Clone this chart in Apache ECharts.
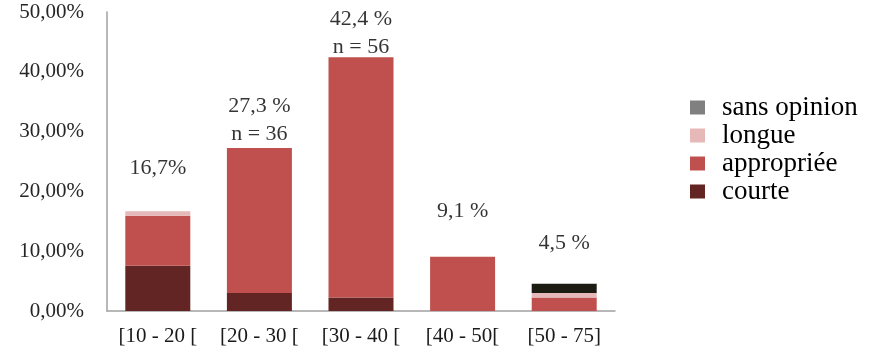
<!DOCTYPE html>
<html>
<head>
<meta charset="utf-8">
<script src="https://cdn.jsdelivr.net/npm/echarts@6/dist/echarts.min.js"></script>
<style>
html,body{margin:0;padding:0;background:#fff;}
#c{width:893px;height:354px;}
</style>
</head>
<body>
<div id="c"></div>
<script>
const categories = ['[10 - 20 [', '[20 - 30 [', '[30 - 40 [', '[40 - 50[', '[50 - 75]'];
const courte = [7.58, 3.03, 2.27, 0, 0];
const appropriee = [8.33, 24.24, 40.15, 9.09, 2.27];
const longue = [0.76, 0, 0, 0, 0.76];
const sansOpinion = [0, 0, 0, 0, 1.52];
const topLabels = ['16,7%', '27,3 %\nn = 36', '42,4 %\nn = 56', '9,1 %', '4,5 %'];
const yTicks = [0, 10, 20, 30, 40, 50];

const labelGap = [29, 0, -4, 31, 27];
const totals = categories.map((_, i) => courte[i] + appropriee[i] + longue[i] + sansOpinion[i]);

const font = 'Liberation Serif';
const chart = echarts.init(document.getElementById('c'), null, {renderer: 'canvas'});

function bar(name, data, color) {
  return {
    name: name, type: 'bar', stack: 'total', data: data, barWidth: 65,
    itemStyle: {color: color}, emphasis: {disabled: true}
  };
}

chart.setOption({
  animation: false,
  backgroundColor: '#ffffff',
  textStyle: {fontFamily: font},
  grid: {left: 107, right: 278, top: 12, bottom: 43, containLabel: false},
  legend: {
    orient: 'vertical', left: 685, top: 89,
    icon: 'rect', itemWidth: 15, itemHeight: 14, itemGap: 1,
    textStyle: {fontFamily: font, fontSize: 27, color: '#000', lineHeight: 26, padding: [0, 0, 0, 12]},
    data: [
      {name: 'sans opinion', itemStyle: {color: '#808080'}},
      {name: 'longue'},
      {name: 'appropriée'},
      {name: 'courte'}
    ]
  },
  xAxis: {
    type: 'category', data: categories,
    axisLine: {show: true, lineStyle: {color: '#a0a0a0', width: 1.5}},
    axisTick: {show: false},
    axisLabel: {fontFamily: font, fontSize: 21, color: '#1a1a1a', margin: 15, interval: 0}
  },
  yAxis: {
    type: 'value', min: yTicks[0], max: yTicks[yTicks.length - 1], interval: 10,
    splitLine: {show: false},
    axisLine: {show: true, lineStyle: {color: '#a0a0a0', width: 1.5}},
    axisTick: {show: false},
    axisLabel: {
      fontFamily: font, fontSize: 21, color: '#262626', margin: 23,
      formatter: v => v.toFixed(2).replace('.', ',') + '%'
    }
  },
  series: [
    bar('courte', courte, '#632523'),
    bar('appropriée', appropriee, '#c0504d'),
    bar('longue', longue, '#e6b9b8'),
    bar('sans opinion', sansOpinion, '#1c1c12'),
    {
      name: 'labels', type: 'scatter', symbolSize: 0, silent: true,
      data: totals.map((t, i) => ({
        value: t,
        label: {
          show: true, position: 'top', distance: labelGap[i],
          formatter: topLabels[i],
          fontFamily: font, fontSize: 22, lineHeight: 28, color: '#000'
        }
      })),
      z: 10
    }
  ]
});
</script>
</body>
</html>
